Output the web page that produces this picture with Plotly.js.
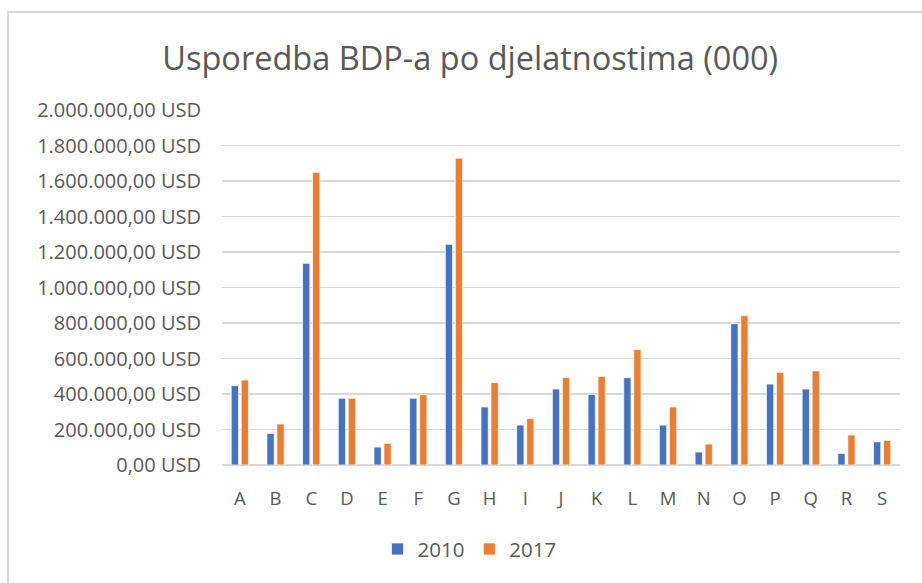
<!DOCTYPE html>
<html>
<head>
<meta charset="utf-8">
<script src="https://cdn.plot.ly/plotly-3.0.1.min.js"></script>
<style>
  html, body { margin: 0; padding: 0; background: #fff; }
  #wrap { position: relative; width: 922px; height: 583px; }
  #chart { position: absolute; left: 0; top: 0; width: 922px; height: 583px; }
  #frame { position: absolute; left: 7px; top: 11px; width: 930px; height: 600px;
           border-left: 2px solid #d9d9d9; border-top: 2px solid #d9d9d9; pointer-events: none; }
</style>
</head>
<body>
<div id="wrap">
  <div id="chart"></div>
  <div id="frame"></div>
</div>
<script>
const categories = ["A","B","C","D","E","F","G","H","I","J","K","L","M","N","O","P","Q","R","S"];
const values2010 = [447000,178000,1136000,376000,101000,376000,1243000,327000,225000,428000,398000,492000,225000,73000,796000,456000,428000,65000,131000];
const values2017 = [479000,231000,1649000,376000,122000,396000,1728000,464000,261000,492000,499000,651000,327000,118000,841000,522000,530000,169000,139000];
const tickValues = [0,200000,400000,600000,800000,1000000,1200000,1400000,1600000,1800000,2000000];
const tickLabels = ["0,00 USD","200.000,00 USD","400.000,00 USD","600.000,00 USD","800.000,00 USD","1.000.000,00 USD","1.200.000,00 USD","1.400.000,00 USD","1.600.000,00 USD","1.800.000,00 USD","2.000.000,00 USD"];
const seriesNames = ["2010","2017"];

const font = "Open Sans, sans-serif";
const grey = "#595959";

const data = [
  { type: "bar", name: seriesNames[0], x: categories, y: values2010,
    marker: { color: "#4472C4", line: { color: "#ffffff", width: 0.75 } } },
  { type: "bar", name: seriesNames[1], x: categories, y: values2017,
    marker: { color: "#ED7D31", line: { color: "#ffffff", width: 0.75 } } }
];

const layout = {
  width: 922, height: 583,
  paper_bgcolor: "rgba(0,0,0,0)", plot_bgcolor: "rgba(0,0,0,0)",
  margin: { l: 222, r: 22, t: 110, b: 118 },
  barmode: "group", bargap: 0.44, bargroupgap: 0.27,
  title: { text: "Usporedba BDP-a po djelatnostima (000)", x: 0.51, xanchor: "center",
           y: 0.9, yanchor: "middle", font: { family: font, size: 32.5, color: grey } },
  xaxis: { type: "category", showgrid: false, showline: false, zeroline: false,
           ticks: "outside", ticklen: 17, tickcolor: "rgba(0,0,0,0)",
           tickfont: { family: font, size: 18.5, color: grey } },
  yaxis: { range: [0, 2000000], tickvals: tickValues, ticktext: tickLabels,
           showgrid: true, gridcolor: "#d9d9d9", gridwidth: 1.5,
           zeroline: true, zerolinecolor: "#d9d9d9", zerolinewidth: 1.5, showline: false,
           ticks: "outside", ticklen: 16, tickcolor: "rgba(0,0,0,0)",
           tickfont: { family: font, size: 20, color: grey } },
  showlegend: true,
  legend: { orientation: "h", x: 0.365, xanchor: "center", y: -0.237, yanchor: "middle",
            font: { family: font, size: 20.5, color: grey }, itemwidth: 30, traceorder: "normal" }
};

Plotly.newPlot("chart", data, layout, { displayModeBar: false, staticPlot: true });
</script>
</body>
</html>
